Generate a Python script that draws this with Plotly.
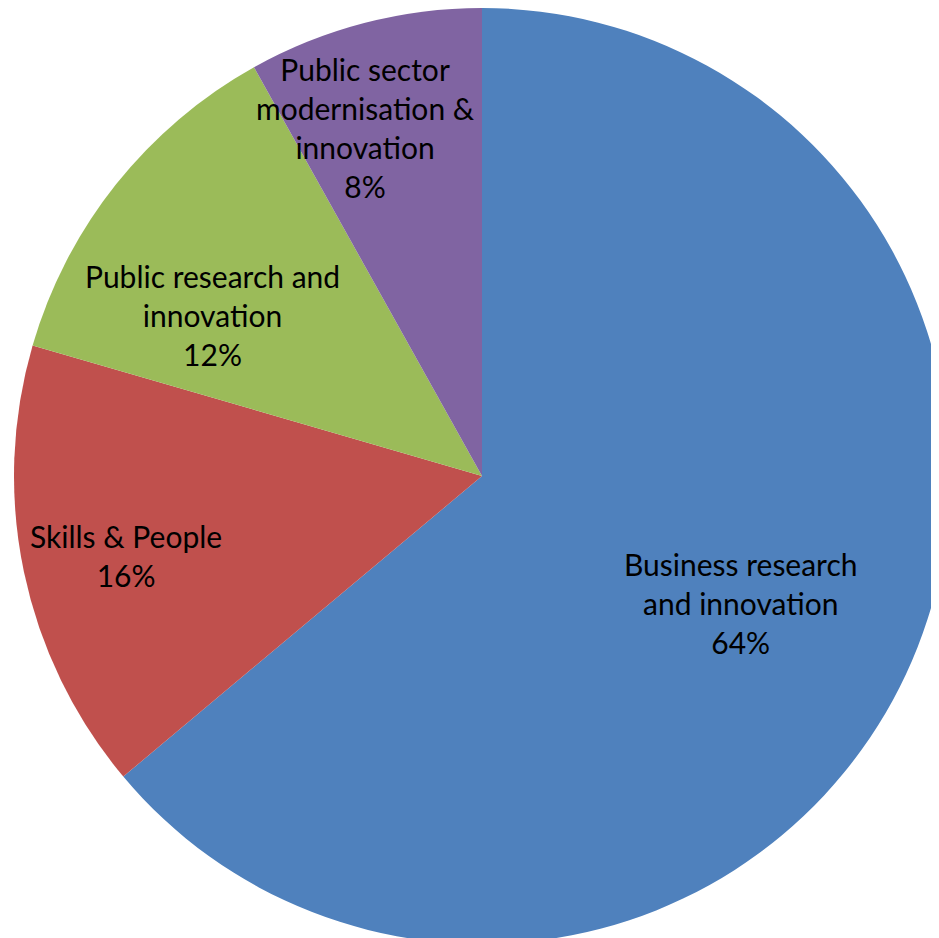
import plotly.graph_objects as go

labels = ["Business research<br>and innovation", "Skills & People",
          "Public research and<br>innovation", "Public sector<br>modernisation &<br>innovation"]
values = [63.9, 15.6, 12.4, 8.1]
colors = ["#4F81BD", "#C0504D", "#9BBB59", "#8064A2"]

# label anchor positions (page pixels) for the data labels
label_px = [(741, 603), (126, 555), (212, 315), (365, 128)]

W, H, OFF = 948, 936, 8

fig = go.Figure(go.Pie(
    labels=labels, values=values, sort=False, direction="clockwise", rotation=0,
    marker=dict(colors=colors, line=dict(width=0)),
    textinfo="none", showlegend=False, hoverinfo="skip",
))
total = sum(values)
for lab, v, (px, py) in zip(labels, values, label_px):
    fig.add_annotation(
        text=f"{lab}<br>{round(100 * v / total)}%",
        x=(px - OFF) / W, y=1 - (py - OFF) / H, xref="paper", yref="paper",
        xanchor="center", yanchor="middle", align="center", showarrow=False,
        font=dict(family="Lato", size=30, color="#000000"),
    )
fig.update_layout(width=W, height=H, margin=dict(l=0, r=0, t=0, b=0),
                  paper_bgcolor="white", showlegend=False)
fig.write_html("out.html")
